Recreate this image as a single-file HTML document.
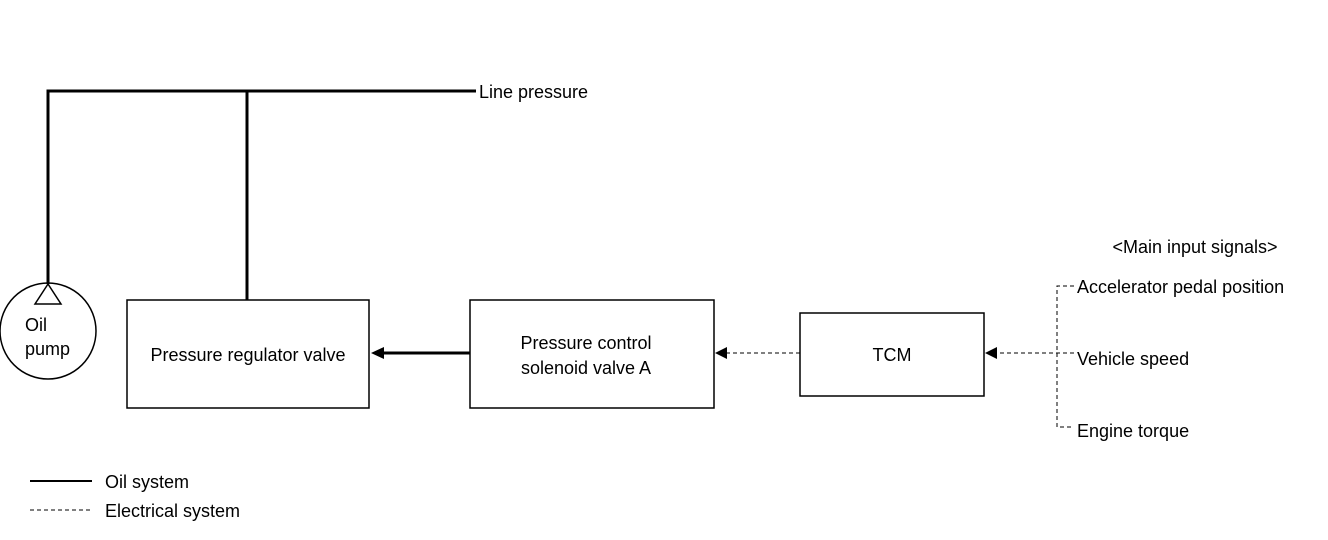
<!DOCTYPE html>
<html><head><style>body{margin:0;background:#fff}svg{display:block}text{font-family:"Liberation Sans",sans-serif;font-size:18px;fill:#000}</style></head><body>
<svg width="1328" height="540" viewBox="0 0 1328 540">
<g fill="none" stroke="#000">
<polyline points="48,284 48,91 476,91" stroke-width="3"/>
<line x1="247" y1="91" x2="247" y2="300" stroke-width="3"/>
<circle cx="48" cy="331" r="48" stroke-width="1.5"/>
<polygon points="48,284 35,304 61,304" stroke-width="1.5"/>
<rect x="127" y="300" width="242" height="108" stroke-width="1.5"/>
<rect x="470" y="300" width="244" height="108" stroke-width="1.5"/>
<rect x="800" y="313" width="184" height="83" stroke-width="1.5"/>
<line x1="470" y1="353" x2="382" y2="353" stroke-width="3"/>
<g stroke-dasharray="4,3" stroke-width="1">
<line x1="800" y1="353" x2="726" y2="353"/>
<line x1="1074" y1="353" x2="996" y2="353"/>
<polyline points="1074,286 1057,286 1057,427 1074,427"/>
<line x1="30" y1="510" x2="92" y2="510"/>
</g>
<line x1="30" y1="481" x2="92" y2="481" stroke-width="2"/>
</g>
<polygon points="371,353 384,347 384,359"/>
<polygon points="715,353 727,347 727,359"/>
<polygon points="985,353 997,347 997,359"/>
<text x="479" y="98">Line pressure</text>
<text x="25" y="331">Oil</text>
<text x="25" y="355">pump</text>
<text x="248" y="361" text-anchor="middle">Pressure regulator valve</text>
<text x="586" y="349" text-anchor="middle">Pressure control</text>
<text x="586" y="374" text-anchor="middle">solenoid valve A</text>
<text x="892" y="361" text-anchor="middle">TCM</text>
<text x="1195" y="253" text-anchor="middle">&lt;Main input signals&gt;</text>
<text x="1077" y="293">Accelerator pedal position</text>
<text x="1077" y="365">Vehicle speed</text>
<text x="1077" y="437">Engine torque</text>
<text x="105" y="488">Oil system</text>
<text x="105" y="517">Electrical system</text>
</svg>
</body></html>
